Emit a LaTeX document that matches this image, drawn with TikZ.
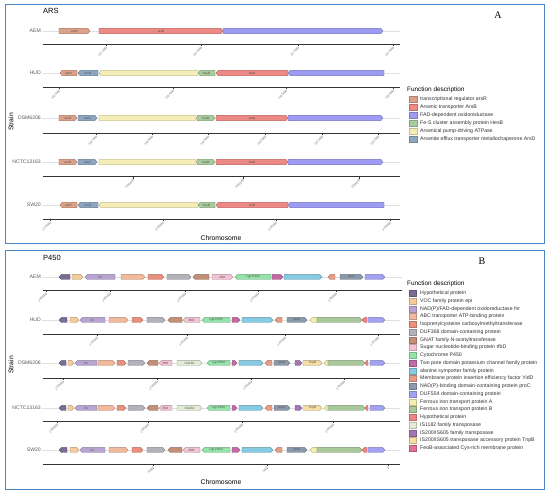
\documentclass[tikz,border=0pt]{standalone}
\usepackage{fontspec}
\setmainfont{Liberation Sans}
\newfontfamily\letterfont{Liberation Serif}
\usetikzlibrary{calc}
% panel A colours
\definecolor{arsR}{HTML}{DBA289}
\definecolor{arsB}{HTML}{EC8A86}
\definecolor{fad}{HTML}{9D9CF2}
\definecolor{hesB}{HTML}{A9CC9F}
\definecolor{arsA}{HTML}{F4EDB7}
\definecolor{arsD}{HTML}{8EA7C0}
% panel B colours
\definecolor{hyp}{HTML}{7B6C92}
\definecolor{voc}{HTML}{F6CB9C}
\definecolor{fnr}{HTML}{B9A5D3}
\definecolor{abc}{HTML}{F1BA9B}
\definecolor{iso}{HTML}{E9907C}
\definecolor{dufA}{HTML}{B3B1BA}
\definecolor{gnat}{HTML}{C48F78}
\definecolor{rfbd}{HTML}{F3C3D2}
\definecolor{cyp}{HTML}{94E3A9}
\definecolor{kch}{HTML}{C26AA6}
\definecolor{ala}{HTML}{84CBE3}
\definecolor{yidd}{HTML}{E79C84}
\definecolor{proc}{HTML}{8B9AAB}
\definecolor{dufB}{HTML}{A3A2F2}
\definecolor{feoa}{HTML}{F6EDB0}
\definecolor{feob}{HTML}{A9C99B}
\definecolor{hypr}{HTML}{F08383}
\definecolor{isA}{HTML}{E1EBD6}
\definecolor{isB}{HTML}{A574B3}
\definecolor{tnpb}{HTML}{F6DDA3}
\definecolor{feoc}{HTML}{E07397}
\definecolor{panelblue}{HTML}{4A86C5}
\newcounter{gid}
\newcommand\gene[6]{
    \stepcounter{gid}
    \pgfmathsetmacro\gw{#2-#1}
    \pgfmathsetmacro\ga{min(2.2,\gw/2)}
    \if#4r
        \pgfmathsetmacro\xb{#2-\ga}
        \filldraw[gene, fill=#5, draw=#5!70!black] (#1,#3-\gh) -- (\xb,#3-\gh)
            -- (#2,#3) -- (\xb,#3+\gh) -- (#1,#3+\gh) -- cycle;
    \else
        \pgfmathsetmacro\xb{#1+\ga}
        \filldraw[gene, fill=#5, draw=#5!70!black] (#2,#3-\gh) -- (\xb,#3-\gh)
            -- (#1,#3) -- (\xb,#3+\gh) -- (#2,#3+\gh) -- cycle;
    \fi
    \node[genetxt] (g\arabic{gid}) at ({(#1+#2)/2},#3) {#6};
}
\newcommand\strain[4]{
    \node[straintxt] (#3) at (42,#1) {#2};
    \coordinate (#3e) at (#4,#1);
    \draw[trackline] (#3.east) -- (#3e);
}
\newcommand\chrom[4]{
    \coordinate (#1a) at (43,#2);
    \coordinate (#1b) at (#3,#2);
    \draw[axisline] (#1a) -- (#1b);
    \foreach \t/\l in {#4}
    {
        \draw[axisline] (\t,#2) -- (\t,#2+2);
        \node[ticktxt] (#1t\t) at (\t+1,#2+3) {\l};
    }
}

\begin{document}
\begin{tikzpicture}[x=1pt, y=-1pt,
        gene/.style={line width=0.3pt},
        genetxt/.style={font=\fontsize{3.1pt}{3.5pt}\selectfont, text=black!70, inner sep=0pt},
        straintxt/.style={anchor=east, font=\fontsize{5.1pt}{6pt}\selectfont, text=black!65, inner sep=1pt},
        trackline/.style={draw=black!12, line width=0.6pt},
        axisline/.style={draw=black!80, line width=0.6pt},
        ticktxt/.style={anchor=east, rotate=45, font=\fontsize{3pt}{3.5pt}\selectfont, text=black!55, inner sep=0pt},
        legtitle/.style={anchor=west, font=\fontsize{6.4pt}{7pt}\selectfont, inner sep=0pt},
        legtxt/.style={anchor=west, font=\fontsize{5.2pt}{6pt}\selectfont, text=black!80, inner sep=0pt},
        swatch/.style={minimum width=7.5pt, minimum height=6pt, inner sep=0pt, line width=0.3pt},
        paneltitle/.style={anchor=west, font=\fontsize{7.5pt}{9pt}\selectfont, inner sep=0pt},
        letter/.style={font=\letterfont\fontsize{10pt}{12pt}\selectfont, inner sep=0pt},
        axistitle/.style={font=\fontsize{6.8pt}{8pt}\selectfont, inner sep=0pt},
        panel/.style={draw=panelblue, line width=1pt}
    ]
    \useasboundingbox[fill=white] (0,0) rectangle (550,493);

    % ---------------- panel A : ARS
    \draw[panel] (5,4) rectangle (544,243);
    \node[paneltitle] (ars) at (43,11) {ARS};
    \node[letter] (la) at (498,15) {A};
    \node[axistitle, rotate=90] (strA) at (11,122) {Strain};
    \node[axistitle] (chrA) at (221,238) {Chromosome};
    \def\gh{2.8}

    \strain{31}{AEM}{aAEM}{400}
    \gene{59}{90}{31}{r}{arsR}{arsR}
    \gene{99}{223}{31}{r}{arsB}{arsB}
    \gene{223}{383}{31}{r}{fad}{}
    \chrom{xaAEM}{44.3}{400}{106/2271000,201/2272000,298/2273000,393/2274000}

    \strain{73}{HUD}{aHUD}{400}
    \strain{205}{SW20}{aSW}{400}
    \foreach \y in {73,205}
    {
        \foreach \a/\b/\d/\c/\l in {60/77/l/arsR/arsR,78/98/l/arsD/arsD,99/198/l/arsA/,
            198/215/l/hesB/hesB,216/288/l/arsB/arsB,288/384/l/fad/}
        {
            \gene{\a}{\b}{\y}{\d}{\c}{\l}
        }
    }
    \chrom{xaHUD}{87.3}{400}{59/1362000,173/1364000,286/1366000,393/1368000}

    \strain{118}{DSM6206}{aDSM}{400}
    \strain{162}{NCTC13163}{aNCTC}{400}
    \foreach \y in {118,162}
    {
        \foreach \a/\b/\d/\c/\l in {59/77/r/arsR/arsR,78/97/r/arsD/arsD,99/197/r/arsA/,
            197/215/r/hesB/hesB,216/288/r/arsB/arsB,288/383/r/fad/}
        {
            \gene{\a}{\b}{\y}{\d}{\c}{\l}
        }
    }
    \chrom{xaDSM}{133.3}{400}{96/1447000,152/1448000,208/1449000,265/1450000,322/1451000,378/1452000}
    \chrom{xaNCTC}{176.7}{400}{133/1590000,243/1592000,359/1594000}
    \chrom{xaSW}{219}{400}{50/3178000,163/3180000,276/3182000,390/3184000}

    % legend A
    \node[legtitle] (legAt) at (407,90) {Function description};
    \foreach \c/\t [count=\i] in {arsR/{transcriptional regulator arsR},arsB/{Arsenic transporter ArsB},
        fad/{FAD-dependent oxidoreductase},hesB/{Fe-S cluster assembly protein HesB},
        arsA/{Arsenical pump-driving ATPase},arsD/{Arsenite efflux transporter metallochaperone ArsD}}
    {
        \pgfmathsetmacro\yy{99+8*(\i-1)}
        \node[swatch, fill=\c, draw=\c!80!black] (legAs\i) at (413,\yy) {};
        \node[legtxt] (legA\i) at (420,\yy) {\t};
    }

    % ---------------- panel B : P450
    \draw[panel] (5,250) rectangle (544,489);
    \node[paneltitle] (pfs) at (43,258) {P450};
    \node[letter] (lb) at (482,261) {B};
    \node[axistitle, rotate=90] (strB) at (11,365) {Strain};
    \node[axistitle] (chrB) at (221,482) {Chromosome};
    \def\gh{2.4}

    \def\listAEM{59/70/l/hyp/,72/83/r/voc/,85/115/l/fnr/fnr,121/145/r/abc/,148/164/r/iso/,
        167/191/r/dufA/,193/209/l/gnat/,212/233/r/rfbd/rfbD,235/271/l/cyp/cyp-P450,
        272/283/r/kch/,284/322/r/ala/,328/335/l/yidd/,340/363/r/proc/proC,365/385/r/dufB/}
    \def\listHUD{59/67/l/hyp/,70/79/r/voc/,80/105/l/fnr/fnr,109/128/r/abc/,132/143/r/iso/,
        147/165/r/dufA/,168/182/l/gnat/,183/200/l/rfbd/rfbD,202/230/l/cyp/cyp-P450,
        232/240/r/kch/,242/273/r/ala/,275/282/l/yidd/,287/307/r/proc/proC,310/317/l/feoa/,
        317/362/r/feob/,362/367/l/hypr/,368/385/r/dufB/}
    \def\listDSM{59/66/l/hyp/,68/74/r/voc/,75/97/l/fnr/fnr,98/115/r/abc/,117/126/r/iso/,
        128/145/r/dufA/,147/158/l/gnat/,159/172/l/rfbd/rfbD,177/202/r/isA/IS1182,
        207/230/l/cyp/cyp-P450,232/237/r/kch/,239/263/r/ala/,265/272/l/yidd/,274/290/r/proc/proC,
        295/302/r/isB/,303/322/r/tnpb/TnpB,324/328/l/feoa/,328/365/r/feob/,365/368/l/hypr/,
        370/385/r/dufB/}

    \strain{277}{AEM}{bAEM}{402}
    \foreach \a/\b/\d/\c/\l in \listAEM
    {
        \gene{\a}{\b}{277}{\d}{\c}{\l}
    }
    \chrom{xbAEM}{290}{402}{46/2960000,110/2965000,185/2970000,258/2975000,336/2980000}

    \strain{320}{HUD}{bHUD}{400}
    \strain{450}{SW20}{bSW}{400}
    \foreach \y in {320,450}
    {
        \foreach \a/\b/\d/\c/\l in \listHUD
        {
            \gene{\a}{\b}{\y}{\d}{\c}{\l}
        }
    }
    \chrom{xbHUD}{334}{400}{97/2410000,187/2415000,285/2420000,378/2425000}

    \strain{363}{DSM6206}{bDSM}{400}
    \strain{408}{NCTC13163}{bNCTC}{400}
    \foreach \y in {363,408}
    {
        \foreach \a/\b/\d/\c/\l in \listDSM
        {
            \gene{\a}{\b}{\y}{\d}{\c}{\l}
        }
    }
    \chrom{xbDSM}{378}{400}{63/2535000,157/2540000,251/2545000,344/2550000}
    \chrom{xbNCTC}{421}{400}{57/2680000,148/2685000,242/2690000,333/2695000}
    \chrom{xbSW}{464}{400}{153/10000,267/5000,388/0}

    % legend B
    \node[legtitle] (legBt) at (407,284) {Function description};
    \foreach \c/\t [count=\i] in {hyp/{Hypothetical protein},voc/{VOC family protein epi},
        fnr/{NAD(P)/FAD-dependent oxidoreductase fnr},abc/{ABC transporter ATP-binding protein},
        iso/{Isoprenylcysteine carboxylmethyltransferase},dufA/{DUF368 domain-containing protein},
        gnat/{GNAT family N-acetyltransferase},rfbd/{Sugar nucleotide-binding protein rfbD},
        cyp/{Cytochrome P450},kch/{Two pore domain potassium channel family protein},
        ala/{alanine symporter family protein},yidd/{Membrane protein insertion efficiency factor YidD},
        proc/{NAD(P)-binding domain-containing protein proC},dufB/{DUF554 domain-containing protein},
        feoa/{Ferrous iron transport protein A},feob/{Ferrous iron transport protein B},
        hypr/{Hypothetical protein},isA/{IS1182 family transposase},isB/{IS200/IS605 family transposase},
        tnpb/{IS200/IS605 transposase accessory protein TnpB},feoc/{FeoB-associated Cys-rich membrane protein}}
    {
        \pgfmathsetmacro\yy{293.3+7.75*(\i-1)}
        \node[swatch, minimum width=7pt, fill=\c, draw=\c!80!black] (legBs\i) at (413,\yy) {};
        \node[legtxt] (legB\i) at (420,\yy) {\t};
    }
\end{tikzpicture}
\end{document}
